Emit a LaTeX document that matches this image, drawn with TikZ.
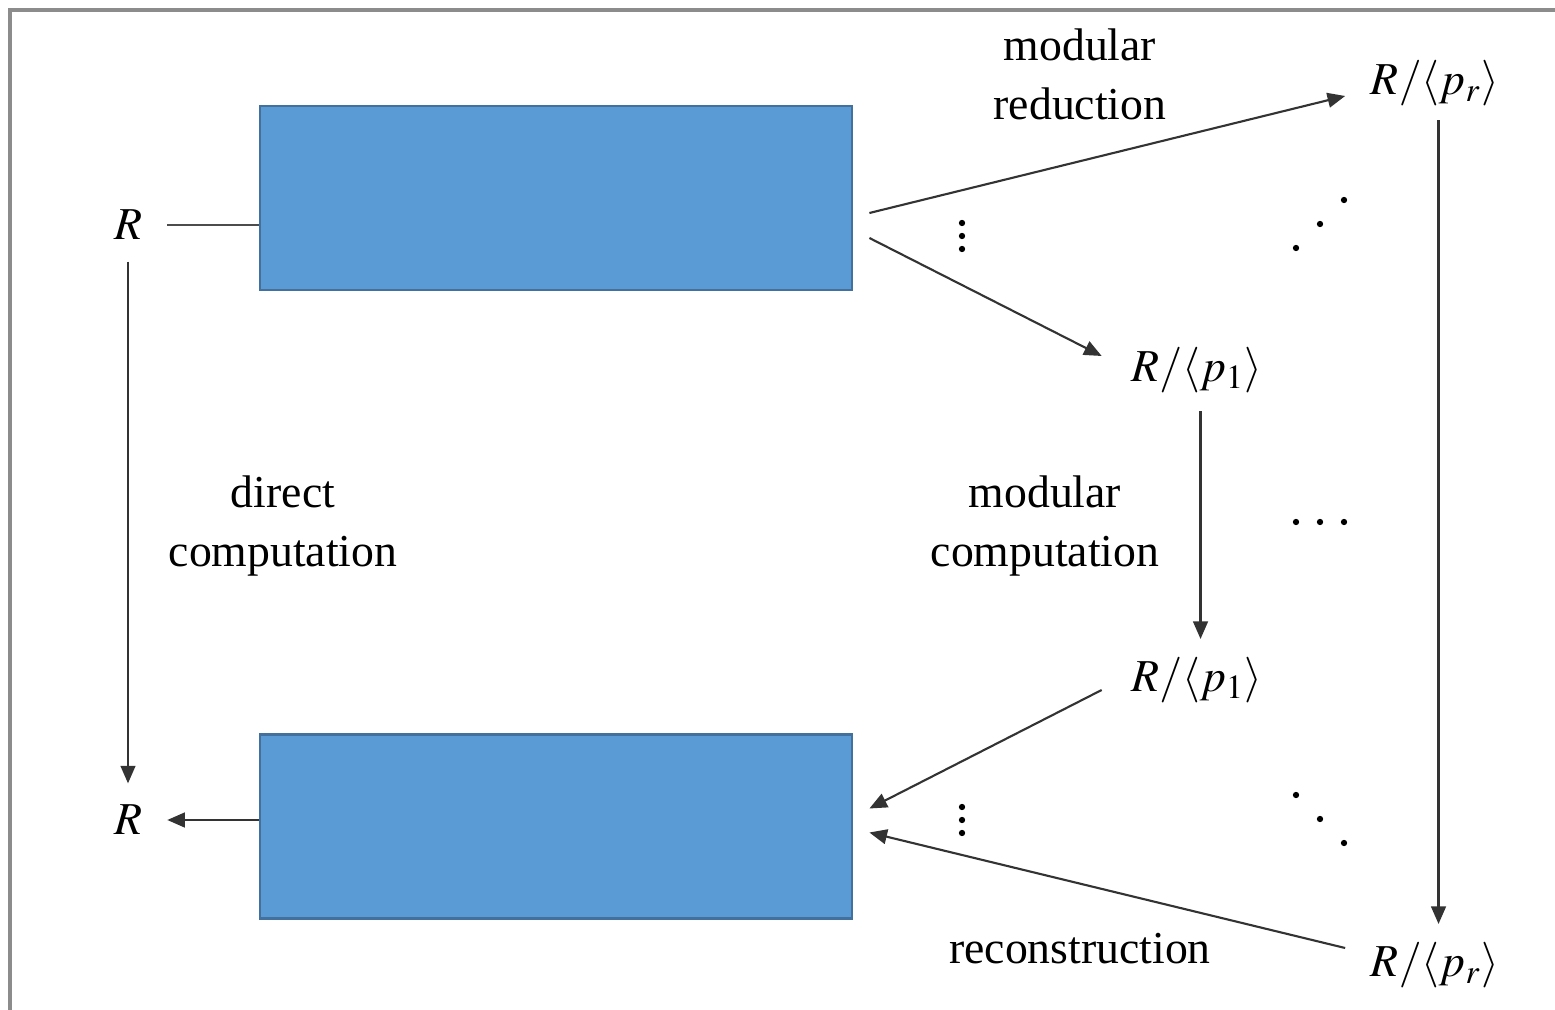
\documentclass[tikz,border=0pt]{standalone}
\usepackage{mathptmx}
\usepackage{fontspec}
\setmainfont{Liberation Serif}
\usetikzlibrary{positioning,arrows.meta,calc}
\definecolor{boxblue}{HTML}{5B9BD5}
\definecolor{boxedge}{HTML}{41719C}
\begin{document}
\begin{tikzpicture}[
    x=0.01cm, y=-0.01cm,
    blk/.style={draw=boxedge, fill=boxblue, line width=0.7pt,
                minimum width=5.92cm, minimum height=1.84cm, inner sep=0pt},
    lbl/.style={inner sep=2pt, font=\fontsize{13}{16.8}\selectfont},
    txt/.style={align=center, inner sep=0pt, font=\fontsize{13}{16.8}\selectfont},
    arr/.style={-{Triangle[length=5pt, width=4.2pt]}, line width=0.6pt, draw=black!80},
    ln/.style={line width=0.6pt, draw=black!70},
    frm/.style={draw=black!45, line width=1pt}
]
  \useasboundingbox (0,0) rectangle (1555,1010);
  \draw[frm] (10,10) rectangle (1600,1060);

  \node[blk] (upper) at (556,198) {};
  \node[blk] (lower) at (556,826.5) {};

  \node[lbl] (rin) at (128,225) {$R$};
  \node[lbl] (rout) at (128,820) {$R$};
  \node[lbl] (prtop) at (1435,83) {$R/\langle p_r\rangle$};
  \node[lbl] (pone) at (1197,370) {$R/\langle p_1\rangle$};
  \node[lbl] (ponebot) at (1197,680) {$R/\langle p_1\rangle$};
  \node[lbl] (prbot) at (1435,965) {$R/\langle p_r\rangle$};

  \node[txt] (direct) at (283,526) {direct\\computation};
  \node[txt] (modcomp) at (1045,526) {modular\\computation};
  \node[txt] (modred) at (1080,74) {modular\\reduction};
  \node[txt] (recon) at (1080,949) {reconstruction};

  \coordinate (fanA) at ($(upper.east)+(16,15)$);
  \coordinate (fanB) at ($(upper.east)+(16,40)$);
  \coordinate (fanC) at ($(lower.east)+(16,-18)$);
  \coordinate (fanD) at ($(lower.east)+(16,6)$);

  \draw[ln, shorten <=5pt] (rin.east) -- (rin.east -| upper.west);
  \draw[arr, shorten >=5pt] (rout.east -| lower.west) -- (rout.east);
  \draw[arr, shorten <=4pt, shorten >=4pt] (rin.south) -- (rout.north);

  \draw[arr] (fanA) -- ($(prtop.west)+(-18,13)$);
  \draw[arr] (fanB) -- ($(pone.west)+(-22,-14)$);
  \draw[arr, shorten <=3pt, shorten >=3pt] ([xshift=1pt]pone.south) -- ([xshift=1pt]ponebot.north);
  \draw[arr, shorten <=2pt, shorten >=3pt] ([xshift=1pt]prtop.south) -- ([xshift=1pt]prbot.north);
  \draw[arr] ($(ponebot.west)+(-22,10)$) -- (fanC);
  \draw[arr] ($(prbot.west)+(-18,-17)$) -- (fanD);

  \foreach \k in {0,1,2} {
    \fill (962,223+13*\k) circle (0.9pt);
    \fill (962,807+13*\k) circle (0.9pt);
    \fill (1296+24*\k,248-24*\k) circle (0.9pt);
    \fill (1296+24*\k,522) circle (0.9pt);
    \fill (1296+24*\k,795+24*\k) circle (0.9pt);
  }
\end{tikzpicture}
\end{document}
